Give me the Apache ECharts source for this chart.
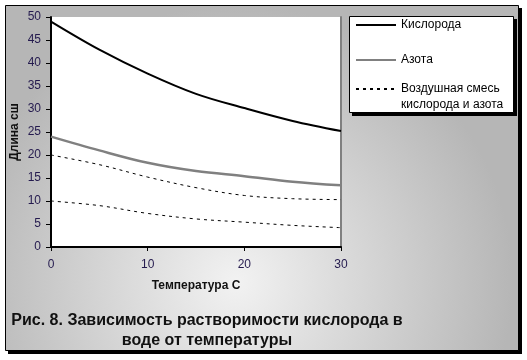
<!DOCTYPE html>
<html>
<head>
<meta charset="utf-8">
<script src="https://cdn.jsdelivr.net/npm/echarts@6/dist/echarts.min.js"></script>
<style>
html,body{margin:0;padding:0;background:#fff;}
#chart{width:527px;height:360px;}
</style>
</head>
<body>
<div id="chart"></div>
<script>
var temps = [0, 5, 10, 15, 20, 25, 30];
var oxygen = [49, 42.9, 37.7, 33.3, 30.2, 27.4, 25.2];
var nitrogen = [24, 21, 18.3, 16.5, 15.4, 14.2, 13.4];
var airUpper = [20, 17.9, 15.2, 12.9, 11.2, 10.5, 10.3];
var airLower = [10, 9, 7.3, 6.1, 5.4, 4.7, 4.2];
var seriesNames = ['Кислорода', 'Азота', 'Воздушная смесь кислорода и азота'];
var xTicks = [0, 10, 20, 30];
var yTicks = [0, 5, 10, 15, 20, 25, 30, 35, 40, 45, 50];
var xName = 'Температура С';
var yName = 'Длина сш';
var titleText = 'Рис. 8. Зависимость растворимости кислорода в\nводе от температуры';

function pairs(ys) { return temps.map(function (t, i) { return [t, ys[i]]; }); }

var FONT = '"Liberation Sans", Arial, sans-serif';
var LABEL_COLOR = '#241a4e';

var chart = echarts.init(document.getElementById('chart'), null, {renderer: 'canvas'});

var legendBase = {
  orient: 'vertical', left: 355, padding: 0, itemWidth: 40, itemHeight: 14,
  textStyle: {fontFamily: FONT, fontSize: 12, color: '#000', lineHeight: 16},
  itemStyle: {color: 'rgba(0,0,0,0)', borderColor: 'rgba(0,0,0,0)', borderWidth: 0},
  selectedMode: false
};

chart.setOption({
  animation: false,
  backgroundColor: '#fff',
  graphic: [
    {type: 'rect', z: -20, silent: true, shape: {x: 8, y: 8, width: 514, height: 346}, style: {fill: '#000'}},
    {type: 'rect', z: -19, silent: true, shape: {x: 5.5, y: 5.5, width: 513, height: 345},
      style: {stroke: '#000', lineWidth: 1,
        fill: {type: 'radial', x: 0.45, y: 0.8, r: 0.8,
          colorStops: [{offset: 0, color: '#f2f2f2'}, {offset: 1, color: '#b6b6b6'}]}}},
    {type: 'rect', z: -18, silent: true, shape: {x: 352, y: 19, width: 165, height: 97}, style: {fill: '#000'}},
    {type: 'rect', z: -17, silent: true, shape: {x: 349.5, y: 16.5, width: 164, height: 96},
      style: {fill: '#fff', stroke: '#000', lineWidth: 1}}
  ],
  title: {
    text: titleText, left: 207, top: 311, textAlign: 'center', padding: 0,
    textStyle: {fontFamily: FONT, fontSize: 16, fontWeight: 'bold', color: '#111', lineHeight: 20}
  },
  legend: [
    Object.assign({}, legendBase, {top: 17, data: [seriesNames[0]]}),
    Object.assign({}, legendBase, {top: 52, data: [seriesNames[1]]}),
    Object.assign({}, legendBase, {top: 65, data: [seriesNames[2]],
      formatter: function (n) { return '\u00a0\n' + n.replace(' смесь ', ' смесь\n'); }})
  ],
  grid: {left: 51, top: 17, width: 290, height: 230, containLabel: false, outerBoundsMode: 'none',
    show: true, backgroundColor: '#fff', borderWidth: 0},
  xAxis: {
    type: 'value', min: xTicks[0], max: xTicks[xTicks.length - 1], interval: 10,
    name: xName, nameLocation: 'middle', nameGap: 33, nameMoveOverlap: false,
    nameTextStyle: {fontFamily: FONT, fontSize: 12, fontWeight: 'bold', color: '#111'},
    axisLine: {show: true, onZero: false, lineStyle: {color: '#000', width: 2}},
    axisTick: {show: true, inside: false, length: 4, lineStyle: {color: '#000', width: 1}},
    axisLabel: {fontFamily: FONT, fontSize: 12, color: LABEL_COLOR, margin: 12},
    splitLine: {show: false}
  },
  yAxis: [{
    type: 'value', min: yTicks[0], max: yTicks[yTicks.length - 1], interval: 5,
    name: yName, nameLocation: 'middle', nameGap: 30, nameMoveOverlap: false,
    nameTextStyle: {fontFamily: FONT, fontSize: 12, fontWeight: 'bold', color: '#111'},
    axisLine: {show: true, onZero: false, lineStyle: {color: '#000', width: 2}},
    axisTick: {show: true, inside: false, length: 5, lineStyle: {color: '#000', width: 1}},
    axisLabel: {fontFamily: FONT, fontSize: 12, color: LABEL_COLOR, margin: 10},
    splitLine: {show: false}
  }, {
    type: 'value', position: 'right', min: yTicks[0], max: yTicks[yTicks.length - 1], interval: 5,
    axisLine: {show: true, onZero: false, lineStyle: {color: '#808080', width: 2}},
    axisTick: {show: false}, axisLabel: {show: false}, splitLine: {show: false}
  }],
  series: [
    {name: seriesNames[0], type: 'line', data: pairs(oxygen), smooth: 0.35, symbol: 'none',
      lineStyle: {color: '#000', width: 2}, itemStyle: {color: '#000'}, z: 5},
    {name: seriesNames[1], type: 'line', data: pairs(nitrogen), smooth: 0.35, symbol: 'none',
      lineStyle: {color: '#808080', width: 2.5}, itemStyle: {color: '#808080'}, z: 4},
    {name: seriesNames[2], type: 'line', data: pairs(airUpper), smooth: 0.35, symbol: 'none',
      lineStyle: {color: '#000', width: 1, type: [3, 4]}, itemStyle: {color: '#000'}, z: 3},
    {name: seriesNames[2], type: 'line', data: pairs(airLower), smooth: 0.35, symbol: 'none',
      lineStyle: {color: '#000', width: 1, type: [3, 4]}, itemStyle: {color: '#000'}, z: 3}
  ]
});
</script>
</body>
</html>
